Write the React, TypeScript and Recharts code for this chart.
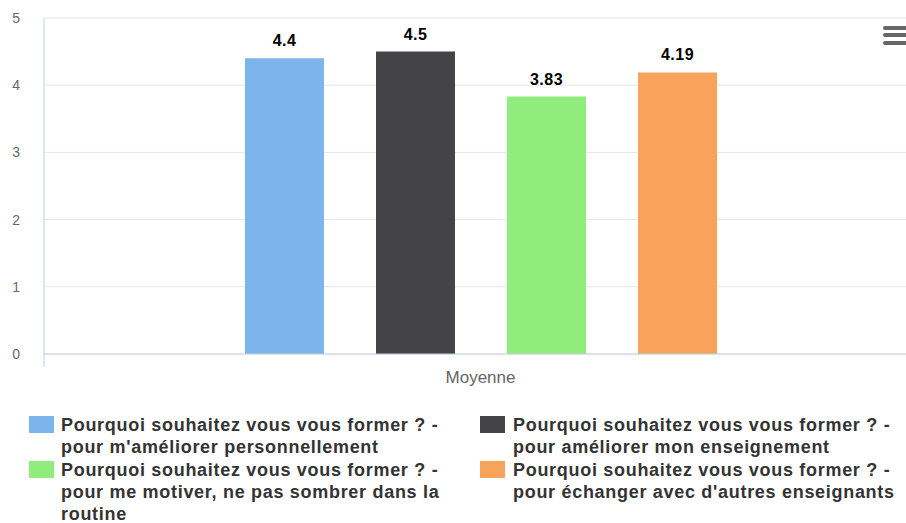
import React from "react";
import * as R from "recharts";
import {
  BarChart,
  Bar,
  XAxis,
  YAxis,
  CartesianGrid,
  LabelList,
} from "recharts";

const categories = ["Moyenne"];

const seriesNames = [
  "Pourquoi souhaitez vous vous former ? - pour m'améliorer personnellement",
  "Pourquoi souhaitez vous vous former ? - pour améliorer mon enseignement",
  "Pourquoi souhaitez vous vous former ? - pour me motiver, ne pas sombrer dans la routine",
  "Pourquoi souhaitez vous vous former ? - pour échanger avec d'autres enseignants",
];

const seriesValues = [4.4, 4.5, 3.83, 4.19];

const seriesColors = ["#7cb5ec", "#434348", "#90ed7d", "#f7a35c"];

const yTicks = [0, 1, 2, 3, 4, 5];

const data = categories.map((name) => {
  const row: Record<string, string | number> = { name };
  seriesValues.forEach((v, i) => {
    row["s" + i] = v;
  });
  return row;
});

const FONT = "'Liberation Sans', Arial, Helvetica, sans-serif";

// small tick under the left end of the x axis
function AxisStub() {
  const hook = (R as any).usePlotArea || (R as any).useOffset;
  const area = hook ? hook() : null;
  if (!area) return null;
  const x = area.x ?? area.left;
  const bottom = area.height != null && area.y != null ? area.y + area.height : null;
  if (x == null || bottom == null) return null;
  return <line x1={x} x2={x} y1={bottom} y2={bottom + 13} stroke="#C0D0E0" strokeWidth={1} />;
}

export default function App() {
  return (
    <div
      style={{
        position: "absolute",
        left: 0,
        top: 0,
        width: 906,
        height: 523,
        overflow: "hidden",
        background: "#fff",
        fontFamily: FONT,
      }}
    >
      <BarChart
        width={906}
        height={400}
        data={data}
        margin={{ top: 18, right: -11, bottom: 16, left: 0 }}
        barSize={79}
        barGap={52}
      >
        <CartesianGrid vertical={false} stroke="#e6e6e6" />
        <XAxis
          dataKey="name"
          height={30}
          tickLine={false}
          tickSize={0}
          tickMargin={17}
          axisLine={{ stroke: "#C0D0E0" }}
          tick={{ fill: "#666", fontSize: 17, fontFamily: FONT }}
        />
        <YAxis
          width={44}
          domain={[0, 5]}
          ticks={yTicks}
          tickLine={false}
          tickSize={0}
          tickMargin={24}
          axisLine={{ stroke: "#C0D0E0" }}
          tick={{ fill: "#666", fontSize: 14, fontFamily: FONT }}
        />
        {seriesValues.map((_, i) => (
          <Bar key={i} dataKey={"s" + i} fill={seriesColors[i]} isAnimationActive={false}>
            <LabelList
              dataKey={"s" + i}
              position="top"
              offset={12}
              fill="#000"
              style={{ fontWeight: "bold", fontSize: 16, fontFamily: FONT, letterSpacing: 0.5 }}
            />
          </Bar>
        ))}
        <AxisStub />
      </BarChart>

      {/* export menu icon */}
      {[26, 33, 41].map((t) => (
        <div
          key={t}
          style={{
            position: "absolute",
            left: 883,
            top: t,
            width: 26,
            height: 4,
            borderRadius: 2,
            background: "#666",
          }}
        />
      ))}

      <div
        style={{
          position: "absolute",
          left: 0,
          top: 414,
          width: 906,
          display: "grid",
          gridTemplateColumns: "451px 455px",
          rowGap: 1,
        }}
      >
        {seriesNames.map((label, i) => (
          <div key={i} style={{ position: "relative" }}>
            <div
              style={{
                position: "absolute",
                left: 29,
                top: 2,
                width: 25,
                height: 17,
                background: seriesColors[i],
              }}
            />
            <div
              style={{
                marginLeft: i % 2 === 0 ? 61 : 62,
                width: i % 2 === 0 ? 400 : 390,
                fontSize: 18,
                lineHeight: "22px",
                fontWeight: "bold",
                letterSpacing: 0.7,
                color: "#333",
              }}
            >
              {label}
            </div>
          </div>
        ))}
      </div>
    </div>
  );
}
